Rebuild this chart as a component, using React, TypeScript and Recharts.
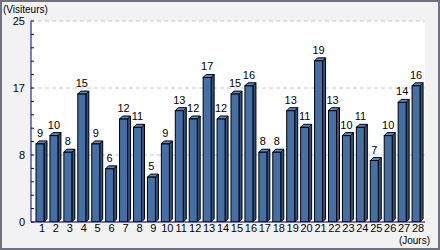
import { ComposedChart, Bar, Line, XAxis, YAxis, CartesianGrid, LabelList } from 'recharts';

const days = ['1', '2', '3', '4', '5', '6', '7', '8', '9', '10', '11', '12', '13', '14', '15', '16', '17', '18', '19', '20', '21', '22', '23', '24', '25', '26', '27', '28'];
const visitors = [9, 10, 8, 15, 9, 6, 12, 11, 5, 9, 13, 12, 17, 12, 15, 16, 8, 8, 13, 11, 19, 13, 10, 11, 7, 10, 14, 16];
const yMax = 25;
const gridValues = [25 / 3, 50 / 3, 25];
// axis ticks: 3 major steps, each split in 5
const yTicks = Array.from({ length: 16 }, (_, i) => (i * yMax) / 15);

const W = 440;
const H = 250;
const TOP = 21;
const BOTTOM = 222;
const DEPTH = 3;
const FONT = '"Liberation Sans", Arial, sans-serif';

const data = days.map((d, i) => ({ day: d, visitors: visitors[i] }));

const Bar3D = (props: any) => {
  const { x, y, width } = props;
  const d = DEPTH;
  const fw = width - d;
  const bottom = BOTTOM;
  return (
    <g stroke="#000" strokeWidth={1}>
      <polygon
        points={`${x + fw},${y} ${x + width},${y - d} ${x + width},${bottom - d} ${x + fw},${bottom}`}
        fill="#2f5283"
      />
      <polygon
        points={`${x},${y} ${x + d},${y - d} ${x + width},${y - d} ${x + fw},${y}`}
        fill="#5d87bd"
      />
      <rect x={x} y={y} width={fw} height={bottom - y} fill="#4570a6" />
    </g>
  );
};

const ValueLabel = (props: any) => {
  const { x, y, width, value } = props;
  return (
    <text x={x + (width - DEPTH) / 2} y={y - DEPTH - 4} textAnchor="middle" fontSize={11} fontFamily={FONT} fill="#000">
      {value}
    </text>
  );
};

export default function App() {
  return (
    <div
      style={{
        position: 'absolute',
        left: 0,
        top: 0,
        width: W,
        height: H,
        background: '#f2f2f2',
        boxShadow: 'inset 0 0 0 2px #6f717e',
      }}
    >
      <div style={{ position: 'absolute', left: 31, top: TOP, width: 394, height: BOTTOM - TOP, background: '#fff' }} />
      <ComposedChart
        width={W}
        height={H}
        data={data}
        margin={{ top: TOP, right: 15, bottom: 0, left: 0 }}
        barSize={11}
        style={{ position: 'absolute', left: 0, top: 0 }}
      >
        <CartesianGrid yAxisId="grid" vertical={false} stroke="#c8c8c8" strokeDasharray="4 3" />
        <XAxis
          dataKey="day"
          interval={0}
          height={H - BOTTOM}
          padding={{ left: 4, right: 0 }}
          tickLine={false}
          tickSize={0}
          tickMargin={2}
          axisLine={{ stroke: '#000080' }}
          tick={{ fontSize: 11, fontFamily: FONT, fill: '#000' }}
          label={(p: any) => {
            const vb = p.viewBox;
            return (
              <text x={vb.x + vb.width + 5} y={vb.y + 22} textAnchor="end" fontSize={10} fontFamily={FONT} fill="#000">
                (Jours)
              </text>
            );
          }}
        />
        <YAxis
          yAxisId="axis"
          type="number"
          width={31}
          domain={[0, yMax]}
          allowDataOverflow
          ticks={yTicks}
          interval={0}
          tickSize={-3}
          tickMargin={9}
          tickLine={{ stroke: '#000080' }}
          axisLine={{ stroke: '#000080' }}
          tick={{ fontSize: 11, fontFamily: FONT, fill: '#000' }}
          tickFormatter={(v: number, i: number) => (i % 5 === 0 ? String(Math.round(v)) : '')}
          label={(p: any) => {
            const vb = p.viewBox;
            return (
              <text x={3} y={vb.y - 8} fontSize={10} fontFamily={FONT} fill="#000">
                (Visiteurs)
              </text>
            );
          }}
        />
        <YAxis yAxisId="grid" hide type="number" domain={[0, yMax]} allowDataOverflow ticks={gridValues} interval={0} />
        <YAxis yAxisId="bars" hide type="number" domain={[-0.4, 23.8]} allowDataOverflow />
        {/* invisible series keep the extra axes bound to the data */}
        <Line dataKey="visitors" yAxisId="axis" stroke="none" dot={false} activeDot={false} legendType="none" isAnimationActive={false} />
        <Line dataKey="visitors" yAxisId="grid" stroke="none" dot={false} activeDot={false} legendType="none" isAnimationActive={false} />
        <Bar dataKey="visitors" yAxisId="bars" shape={Bar3D} isAnimationActive={false}>
          <LabelList dataKey="visitors" content={ValueLabel} />
        </Bar>
      </ComposedChart>
    </div>
  );
}
